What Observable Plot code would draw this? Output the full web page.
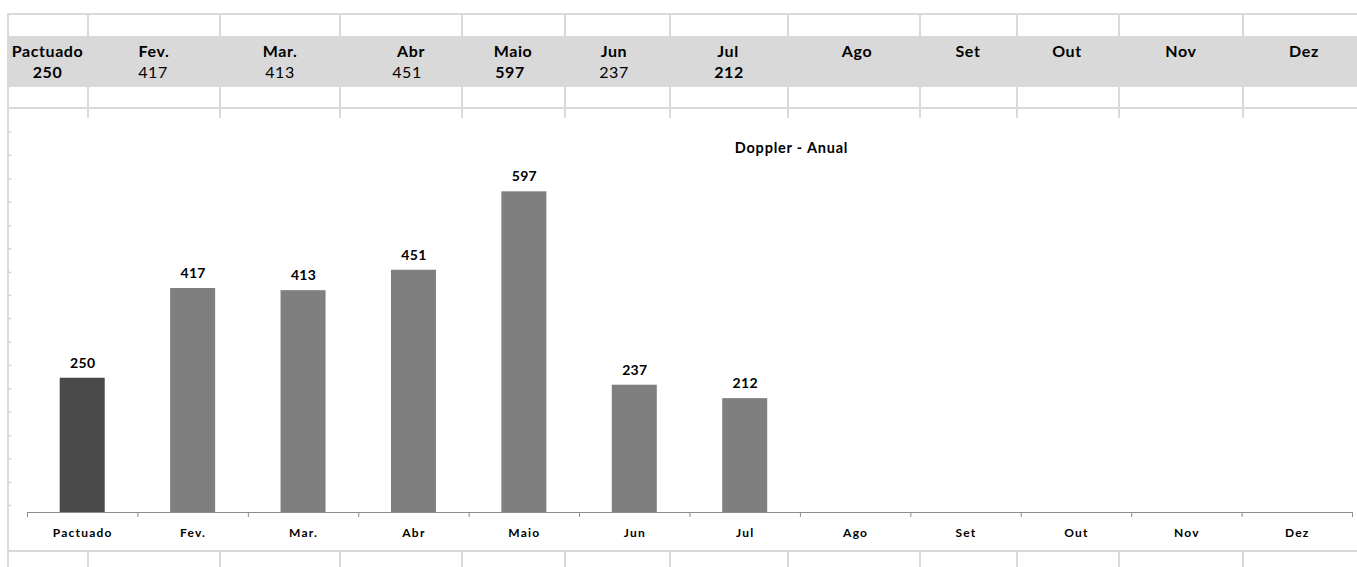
<!DOCTYPE html>
<html><head><meta charset="utf-8">
<script src="https://cdn.jsdelivr.net/npm/d3@7"></script>
<script src="https://cdn.jsdelivr.net/npm/@observablehq/plot@0.6"></script>
<style>
body{margin:0;background:#fff;font-family:Lato,sans-serif;}
#page{position:relative;width:1357px;height:567px;overflow:hidden;background:#fff;}
.hl{position:absolute;left:7px;right:0;height:2px;background:#dadada;}
.vl{position:absolute;width:2px;background:#dadada;}
.band{position:absolute;left:7px;right:0;top:36px;height:51px;background:#d9d9d9;}
.cell{position:absolute;transform:translateX(-50%);font-size:16px;line-height:16px;white-space:nowrap;color:#000;letter-spacing:0.6px;}
#chart{position:absolute;left:9px;top:118px;}
#chart svg g[aria-label="x-axis tick label"] text{letter-spacing:1.2px;}
#chart svg g[aria-label="text"] text{letter-spacing:0.3px;}
#chart svg > g:last-of-type text{letter-spacing:0.8px;}
</style></head><body><div id="page"></div>
<script>
// ---- data ----
const months = ["Pactuado","Fev.","Mar.","Abr","Maio","Jun","Jul","Ago","Set","Out","Nov","Dez"];
const values = [250,417,413,451,597,237,212,null,null,null,null,null];
const yTicks = [13,56,100,143,187,230,274,317,361,404,447,491,534,578,621,665,708];
const title = "Doppler - Anual";

// ---- layout (spreadsheet cells) ----
const headerCenters = [47.5,154,280,411,513,614,728,857,968,1067,1181,1304];
const valueCenters = [47.5,153,280,407,510,614,729,857,968,1067,1181,1304];
const colBorders = [88,220,340,462,565,670,788,920,1017,1119,1243];
const boldValues = new Set(["Pactuado","Maio","Jul"]);

const page = document.getElementById("page");
function el(cls, css, text){const d=document.createElement("div");d.className=cls;Object.assign(d.style,css);if(text!=null)d.textContent=text;page.appendChild(d);return d;}

// grid lines
[13,107,550].forEach(y=>el("hl",{top:y+"px"}));
el("vl",{left:"7px",top:"13px",height:"554px"});
colBorders.forEach(x=>{
  el("vl",{left:(x-1)+"px",top:"13px",height:"105px"});
  el("vl",{left:(x-1)+"px",top:"550px",height:"17px"});
});
el("band",{});
// table text
months.forEach((m,i)=>{
  el("cell",{left:headerCenters[i]+"px",top:"42.5px",fontWeight:"bold"},m);
  if(values[i]!=null) el("cell",{left:valueCenters[i]+"px",top:"64px",fontWeight:boldValues.has(m)?"bold":"normal"},String(values[i]));
});

// ---- chart ----
const data = months.map((m,i)=>({month:m,value:values[i]}));
const withVal = data.filter(d=>d.value!=null);
const W = 1348, H = 432, ML = 18, MR = 5;
const step = (W-ML-MR)/months.length;
const chart = Plot.plot({
  width:W, height:H,
  marginLeft:ML, marginRight:MR, marginTop:13.7, marginBottom:38,
  style:{background:"#fff",fontFamily:"Lato, sans-serif",overflow:"visible",color:"#000"},
  x:{domain:months, paddingInner:0.5925, paddingOuter:0.29625, round:false, label:null},
  y:{domain:[0,708], label:null},
  marks:[
    Plot.axisY({ticks:yTicks, tickSize:3, tickFormat:()=>"", stroke:"#d4d4d4", strokeWidth:1.5, dx:-15.5, label:null}),
    Plot.barY(withVal.filter(d=>d.month==="Pactuado"),{x:"month",y:"value",fill:"#4a4a4a"}),
    Plot.barY(withVal.filter(d=>d.month!=="Pactuado"),{x:"month",y:"value",fill:"#7f7f7f"}),
    Plot.ruleY([0],{stroke:"#8c8c8c",strokeWidth:1.2}),
    Plot.axisX({tickSize:5, tickFormat:()=>"", dx:-step/2, stroke:"#8c8c8c", label:null}),
    Plot.axisX({ticks:[months[months.length-1]], tickSize:5, tickFormat:()=>"", dx:step/2, stroke:"#8c8c8c", label:null}),
    Plot.axisX({tickSize:0, tickPadding:16, fontWeight:"bold", fontSize:12, label:null}),
    Plot.text(withVal,{x:"month",y:"value",text:d=>String(d.value),dy:-15,lineAnchor:"middle",fontWeight:"bold",fontSize:14,fill:"#000"}),
    Plot.text([title],{frameAnchor:"top",dx:101.5,dy:16.5,lineAnchor:"middle",fontWeight:"bold",fontSize:14.5,fill:"#000"})
  ]
});
const wrap = document.createElement("div");
wrap.id="chart";
wrap.appendChild(chart);
page.appendChild(wrap);
</script>
</body></html>
